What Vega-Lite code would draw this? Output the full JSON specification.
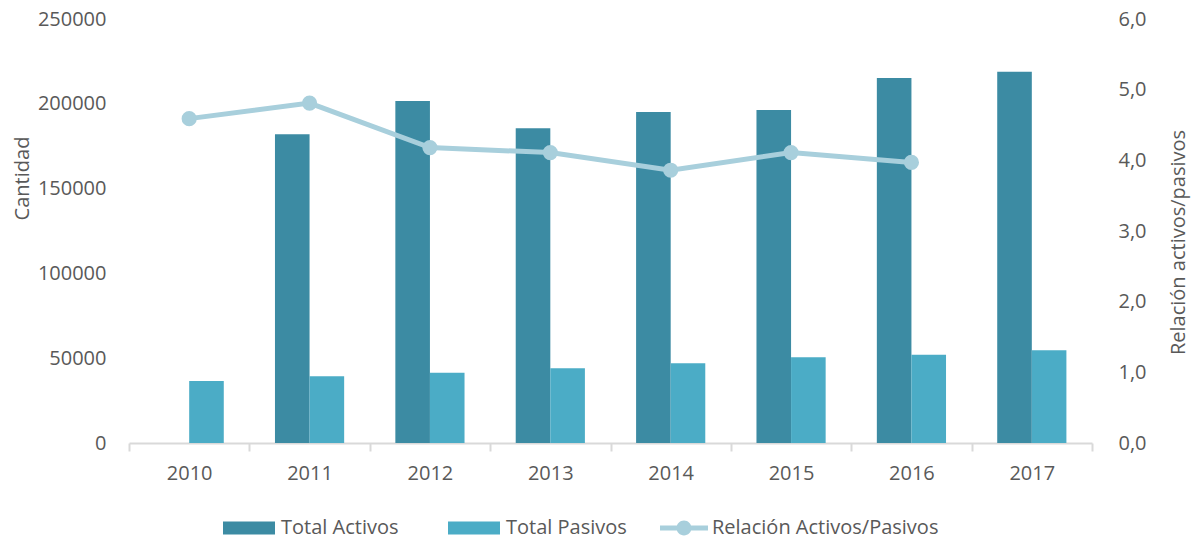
{
  "$schema": "https://vega.github.io/schema/vega-lite/v6.json",
  "width": 963,
  "height": 424,
  "autosize": {"type": "none"},
  "padding": {"left": 129, "top": 19, "right": 108, "bottom": 102},
  "background": "white",
  "config": {
    "view": {"stroke": null},
    "font": "Open Sans",
    "axis": {"labelColor": "#595959", "titleColor": "#595959", "labelFontSize": 20, "titleFontSize": 20, "titleFontWeight": "normal", "labelFont": "Open Sans", "titleFont": "Open Sans", "grid": false},
    "legend": {"labelColor": "#595959", "labelFontSize": 20, "labelFont": "Open Sans", "padding": 0, "labelLimit": 0}
  },
  "datasets": {
    "bars": [
      {"anio": "2010", "serie": "Total Pasivos", "valor": 36560},
      {"anio": "2011", "serie": "Total Activos", "valor": 182000},
      {"anio": "2011", "serie": "Total Pasivos", "valor": 39330},
      {"anio": "2012", "serie": "Total Activos", "valor": 201600},
      {"anio": "2012", "serie": "Total Pasivos", "valor": 41450},
      {"anio": "2013", "serie": "Total Activos", "valor": 185550},
      {"anio": "2013", "serie": "Total Pasivos", "valor": 44040},
      {"anio": "2014", "serie": "Total Activos", "valor": 195160},
      {"anio": "2014", "serie": "Total Pasivos", "valor": 46990},
      {"anio": "2015", "serie": "Total Activos", "valor": 196340},
      {"anio": "2015", "serie": "Total Pasivos", "valor": 50530},
      {"anio": "2016", "serie": "Total Activos", "valor": 215200},
      {"anio": "2016", "serie": "Total Pasivos", "valor": 52060},
      {"anio": "2017", "serie": "Total Activos", "valor": 218900},
      {"anio": "2017", "serie": "Total Pasivos", "valor": 54650}
    ],
    "ratio": [
      {"anio": "2010", "serie": "Relación Activos/Pasivos", "relacion": 4.59},
      {"anio": "2011", "serie": "Relación Activos/Pasivos", "relacion": 4.81},
      {"anio": "2012", "serie": "Relación Activos/Pasivos", "relacion": 4.18},
      {"anio": "2013", "serie": "Relación Activos/Pasivos", "relacion": 4.11},
      {"anio": "2014", "serie": "Relación Activos/Pasivos", "relacion": 3.86},
      {"anio": "2015", "serie": "Relación Activos/Pasivos", "relacion": 4.11},
      {"anio": "2016", "serie": "Relación Activos/Pasivos", "relacion": 3.97}
    ]
  },
  "encoding": {
    "x": {
      "field": "anio", "type": "nominal",
      "scale": {"domain": ["2010","2011","2012","2013","2014","2015","2016","2017"], "paddingInner": 0, "paddingOuter": 0},
      "axis": {"title": null, "labelAngle": 0, "domainColor": "#D9D9D9", "domainWidth": 2, "tickColor": "#D9D9D9", "tickWidth": 2, "tickSize": 8, "tickBand": "extent", "labelPadding": 12}
    }
  },
  "layer": [
    {
      "data": {"name": "bars"},
      "mark": {"type": "bar", "strokeWidth": 0},
      "encoding": {
        "xOffset": {"field": "serie", "type": "nominal", "scale": {"domain": ["Total Activos", "Total Pasivos"], "paddingInner": 0, "paddingOuter": 0.74}},
        "y": {
          "field": "valor", "type": "quantitative",
          "scale": {"domain": [0, 250000], "nice": false},
          "axis": {"title": "Cantidad", "values": [0, 50000, 100000, 150000, 200000, 250000], "format": "d", "domain": false, "ticks": false, "labelPadding": 23, "titleX": -107, "titleY": 159, "titleAngle": -90, "titleAlign": "center", "titleBaseline": "middle"}
        },
        "color": {
          "field": "serie", "type": "nominal",
          "scale": {"domain": ["Total Activos", "Total Pasivos"], "range": ["#3C8BA3", "#4BACC6"]},
          "legend": {"title": null, "orient": "none", "direction": "horizontal", "columns": 2, "legendX": 94, "legendY": 483, "symbolType": "M-1,-0.25H1V0.25H-1Z", "symbolSize": 2704, "symbolStrokeWidth": 0, "labelOffset": 6, "columnPadding": 49}
        }
      }
    },
    {
      "data": {"name": "ratio"},
      "mark": {"type": "line", "color": "#A8CFDC", "strokeWidth": 5},
      "encoding": {
        "y": {
          "field": "relacion", "type": "quantitative",
          "scale": {"domain": [0, 6], "nice": false},
          "axis": {"orient": "right", "title": "Relación activos/pasivos", "values": [0, 1, 2, 3, 4, 5, 6], "labelExpr": "replace(format(datum.value, '.1f'), '.', ',')", "domain": false, "ticks": false, "labelPadding": 26, "titleX": 86, "titleY": 223, "titleAngle": -90, "titleAlign": "center", "titleBaseline": "middle"}
        }
      }
    },
    {
      "data": {"name": "ratio"},
      "mark": {"type": "point", "shape": "circle", "filled": true, "size": 230, "opacity": 1},
      "encoding": {
        "y": {"field": "relacion", "type": "quantitative", "scale": {"domain": [0, 6], "nice": false}, "axis": null},
        "fill": {
          "field": "serie", "type": "nominal",
          "scale": {"domain": ["Relación Activos/Pasivos"], "range": ["#A8CFDC"]},
          "legend": {"title": null, "orient": "none", "legendX": 531, "legendY": 485, "symbolType": "M-1,-0.1H1V0.1H-1Z M-0.31,0A0.31,0.31 0 1,1 0.31,0A0.31,0.31 0 1,1 -0.31,0Z", "symbolSize": 2304, "symbolStrokeWidth": 0, "labelOffset": 4}
        }
      }
    }
  ],
  "resolve": {"scale": {"y": "independent"}}
}
